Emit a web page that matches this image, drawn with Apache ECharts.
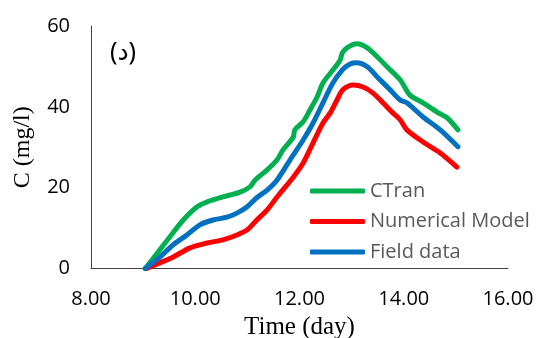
<!DOCTYPE html>
<html>
<head>
<meta charset="utf-8">
<script src="https://cdn.jsdelivr.net/npm/echarts@6/dist/echarts.min.js"></script>
<style>html,body{margin:0;padding:0;background:#fff;}#c{width:537px;height:338px;}</style>
</head>
<body>
<div id="c"></div>
<script>
const seriesNames = ['CTran', 'Numerical Model', 'Field data'];
const xTicks = [8, 10, 12, 14, 16];
const yTicks = [0, 20, 40, 60];
const ctran = [
  [9.04,0],[9.32,4.6],[9.57,8.8],[9.77,12.0],[10.03,15.2],[10.23,16.5],[10.53,17.7],[10.86,18.9],
  [11.05,20.2],[11.15,21.9],[11.38,24.4],[11.57,26.9],[11.68,29.3],[11.88,32.5],[11.91,34.3],
  [12.07,36.3],[12.20,39.2],[12.34,42.5],[12.45,45.9],[12.64,49.1],[12.78,51.6],[12.82,53.3],
  [12.91,54.6],[13.10,55.6],[13.30,54.6],[13.49,52.4],[13.68,49.9],[13.93,46.7],[14.12,42.9],
  [14.37,41.0],[14.64,38.7],[14.83,37.3],[15.04,34.3]
];
const numerical = [
  [9.07,0],[9.32,1.4],[9.57,2.8],[9.90,5.1],[10.23,6.3],[10.53,7.1],[10.80,8.3],[10.99,9.5],
  [11.18,12.0],[11.38,14.5],[11.57,17.7],[11.88,22.6],[12.07,26.1],[12.26,31.1],[12.45,36.0],
  [12.59,38.5],[12.72,41.7],[12.83,44.2],[13.03,45.4],[13.22,44.9],[13.41,43.4],[13.60,41.0],
  [13.79,38.5],[13.93,36.8],[14.06,34.3],[14.37,31.3],[14.70,28.6],[15.02,25.1]
];
const field = [
  [9.04,0],[9.32,2.8],[9.57,5.8],[9.84,8.3],[10.09,10.8],[10.34,12.0],[10.61,12.7],[10.80,13.7],
  [10.99,15.2],[11.18,17.5],[11.38,19.4],[11.57,21.9],[11.82,26.9],[12.07,31.8],[12.26,36.0],
  [12.45,41.0],[12.64,45.9],[12.82,49.1],[12.97,50.6],[13.10,50.9],[13.30,49.9],[13.49,47.4],
  [13.74,44.2],[13.93,41.7],[14.06,41.0],[14.37,37.5],[14.70,34.3],[15.04,30.1]
];
const colors = ['#00B050', '#FF0000', '#0070C0'];
const chart = echarts.init(document.getElementById('c'), null, {renderer: 'canvas'});
const mk = (name, data, color) => ({
  name, type: 'line', data, smooth: 0.3, showSymbol: false, symbol: 'none',
  lineStyle: {color, width: 5, cap: 'round', join: 'round'}, itemStyle: {color}
});
chart.setOption({
  animation: false,
  backgroundColor: '#fff',
  grid: {left: 91, right: 29, top: 26, bottom: 69.5, containLabel: false, outerBoundsMode: 'none'},
  xAxis: {
    type: 'value', min: xTicks[0], max: xTicks[xTicks.length-1], interval: 2,
    name: 'Time (day)', nameLocation: 'middle', nameGap: 46,
    nameTextStyle: {fontFamily: 'Liberation Serif', fontSize: 25, color: '#000'},
    axisLine: {show: true, lineStyle: {color: '#404040', width: 1}},
    axisTick: {show: false}, splitLine: {show: false},
    axisLabel: {fontFamily: 'Open Sans', fontSize: 20, color: '#000', margin: 21,
      formatter: v => v.toFixed(2)}
  },
  yAxis: {
    type: 'value', min: yTicks[0], max: yTicks[yTicks.length-1], interval: 20,
    name: 'C (mg/l)', nameLocation: 'middle', nameGap: 56, nameRotate: 90,
    nameTextStyle: {fontFamily: 'Liberation Serif', fontSize: 24, color: '#000'},
    axisLine: {show: true, lineStyle: {color: '#404040', width: 1}},
    axisTick: {show: false}, splitLine: {show: false},
    axisLabel: {fontFamily: 'Open Sans', fontSize: 20, color: '#000', margin: 21}
  },
  legend: {
    data: seriesNames, orient: 'vertical', left: 310, top: 181, padding: 0,
    itemWidth: 55, itemHeight: 5, itemGap: 10.5, icon: 'roundRect',
    textStyle: {fontFamily: 'Open Sans', fontSize: 20, color: '#595959', lineHeight: 20}
  },
  graphic: [{type: 'text', x: 123, y: 53,
    style: {text: '(د)', font: '25px "Noto Sans", "DejaVu Sans"', fill: '#000',
      align: 'center', verticalAlign: 'middle'}}],
  series: [
    mk(seriesNames[0], ctran, colors[0]),
    mk(seriesNames[1], numerical, colors[1]),
    mk(seriesNames[2], field, colors[2])
  ]
});
</script>
</body>
</html>
